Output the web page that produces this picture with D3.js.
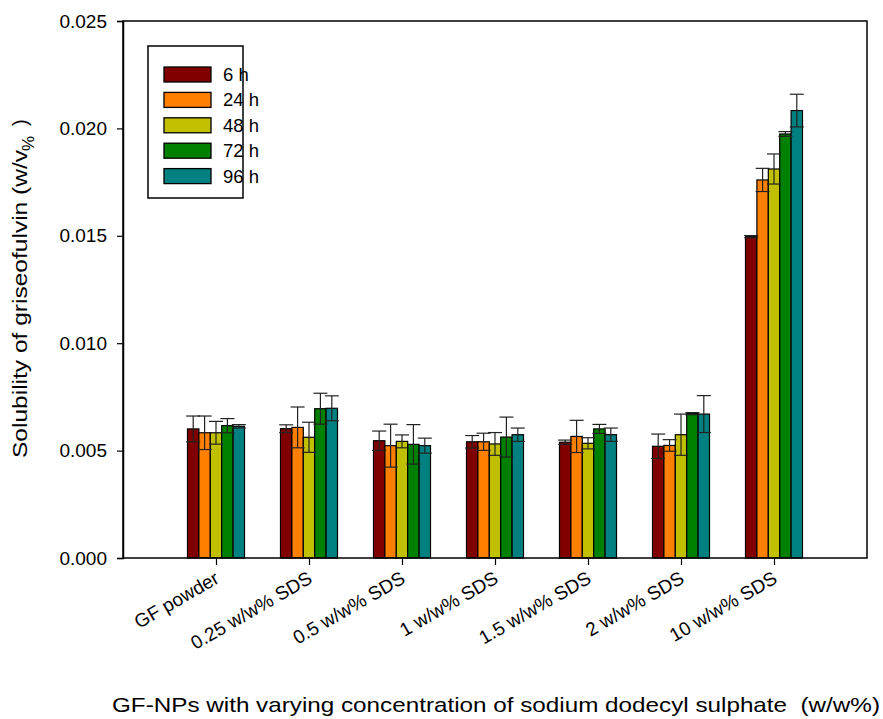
<!DOCTYPE html>
<html>
<head>
<meta charset="utf-8">
<script src="https://cdn.jsdelivr.net/npm/d3@7"></script>
<style>
  body { margin: 0; background: #fff; }
  svg text { font-family: "Liberation Sans", Arial, sans-serif; fill: #000; white-space: pre; }
</style>
</head>
<body>
<svg id="chart" width="883" height="719"></svg>
<script>
// Formulations on the x axis
const categories = ["GF powder", "0.25 w/w% SDS", "0.5 w/w% SDS", "1 w/w% SDS",
                    "1.5 w/w% SDS", "2 w/w% SDS", "10 w/w% SDS"];
// Sampling times (legend)
const series = ["6 h", "24 h", "48 h", "72 h", "96 h"];
const colors = ["#800000", "#ff8000", "#c0c000", "#008000", "#008080"];

// Mean solubility (w/v%) per time point, one entry per formulation
const v6h  = [0.00601, 0.00602, 0.00546, 0.00541, 0.00539, 0.00520, 0.01496];
const v24h = [0.00583, 0.00608, 0.00523, 0.00541, 0.00566, 0.00524, 0.01760];
const v48h = [0.00583, 0.00562, 0.00543, 0.00531, 0.00534, 0.00574, 0.01811];
const v72h = [0.00616, 0.00695, 0.00529, 0.00563, 0.00601, 0.00672, 0.01974];
const v96h = [0.00613, 0.00697, 0.00523, 0.00574, 0.00574, 0.00670, 0.02083];

// Standard deviations
const e6h  = [0.00060, 0.00018, 0.00045, 0.00029, 0.00010, 0.00057, 0.00005];
const e24h = [0.00078, 0.00095, 0.00100, 0.00040, 0.00075, 0.00027, 0.00054];
const e48h = [0.00053, 0.00070, 0.00030, 0.00053, 0.00026, 0.00096, 0.00070];
const e72h = [0.00033, 0.00072, 0.00092, 0.00093, 0.00021, 0.00005, 0.00011];
const e96h = [0.00008, 0.00058, 0.00035, 0.00031, 0.00031, 0.00086, 0.00076];

const yTicks = [0, 0.005, 0.010, 0.015, 0.020, 0.025];

const means = [v6h, v24h, v48h, v72h, v96h];
const errs  = [e6h, e24h, e48h, e72h, e96h];

const svg = d3.select("#chart");
const L = 123, R = 867, T = 21, B = 558;
const FONT = "Liberation Sans, Arial, sans-serif";

const x = d3.scaleLinear().domain([0, categories.length + 1]).range([L, R]);
const inner = d3.scaleBand().domain(series).range([-28.5, 28.5]).padding(0);
const y = d3.scaleLinear().domain([0, 0.025]).range([B, T]);

// records for every bar
const data = [];
categories.forEach((c, i) => {
  series.forEach((s, j) => {
    data.push({ cat: i, s: j, v: means[j][i], e: errs[j][i] });
  });
});

// bars
svg.append("g").selectAll("rect").data(data).join("rect")
  .attr("x", d => x(d.cat + 1) + inner(series[d.s]))
  .attr("y", d => y(d.v))
  .attr("width", inner.bandwidth())
  .attr("height", d => y(0) - y(d.v))
  .attr("fill", d => colors[d.s])
  .attr("stroke", "#000")
  .attr("stroke-width", 1.2);

// error bars
const eg = svg.append("g").attr("stroke", "#222").attr("stroke-width", 1.2);
const capW = 7;
data.forEach(d => {
  const cx = x(d.cat + 1) + inner(series[d.s]) + inner.bandwidth() / 2;
  const y1 = y(d.v + d.e), y2 = y(d.v - d.e);
  eg.append("line").attr("x1", cx).attr("x2", cx).attr("y1", y1).attr("y2", y2);
  eg.append("line").attr("x1", cx - capW).attr("x2", cx + capW).attr("y1", y1).attr("y2", y1);
  eg.append("line").attr("x1", cx - capW).attr("x2", cx + capW).attr("y1", y2).attr("y2", y2);
});

// frame
svg.append("rect").attr("x", L).attr("y", T).attr("width", R - L).attr("height", B - T)
  .attr("fill", "none").attr("stroke", "#000").attr("stroke-width", 1.5);

// y axis
const yAxis = svg.append("g").attr("transform", `translate(${L},0)`)
  .call(d3.axisLeft(y).tickValues(yTicks).tickFormat(d3.format(".3f")).tickSize(6).tickPadding(10));
yAxis.select(".domain").attr("stroke-width", 1.5);
yAxis.selectAll(".tick line").attr("stroke-width", 1.2);
yAxis.selectAll("text").attr("font-size", 19).style("font-family", FONT);

// x axis
const xAxis = svg.append("g").attr("transform", `translate(0,${B})`)
  .call(d3.axisBottom(x).tickValues(d3.range(1, categories.length + 1))
    .tickFormat(d => categories[d - 1]).tickSize(7).tickSizeOuter(0));
xAxis.select(".domain").remove();
xAxis.selectAll(".tick line").attr("stroke-width", 1.2);
xAxis.selectAll("text")
  .attr("font-size", 19)
  .style("font-family", FONT)
  .attr("text-anchor", "end")
  .attr("dy", 0)
  .attr("y", 0)
  .attr("transform", "translate(4,24) rotate(-30)");

// axis titles
svg.append("text")
  .attr("x", 112).attr("y", 712)
  .attr("font-size", 21)
  .attr("textLength", 768)
  .attr("lengthAdjust", "spacingAndGlyphs")
  .text("GF-NPs with varying concentration of sodium dodecyl sulphate  (w/w%)");

svg.append("text")
  .attr("transform", "translate(27,458) rotate(-90)")
  .attr("font-size", 20)
  .attr("textLength", 308)
  .attr("lengthAdjust", "spacingAndGlyphs")
  .text("Solubility of griseofulvin (w/v");
svg.append("text")
  .attr("transform", "translate(34,151) rotate(-90)")
  .attr("font-size", 17)
  .text("%");
svg.append("text")
  .attr("transform", "translate(27,126) rotate(-90)")
  .attr("font-size", 20)
  .text(")");

// legend
const lg = svg.append("g");
lg.append("rect").attr("x", 148).attr("y", 46).attr("width", 95).attr("height", 152)
  .attr("fill", "#fff").attr("stroke", "#000").attr("stroke-width", 1.5);
series.forEach((s, j) => {
  const yy = 67 + j * 25.4;
  lg.append("rect").attr("x", 164).attr("y", yy).attr("width", 47).attr("height", 15)
    .attr("fill", colors[j]).attr("stroke", "#000").attr("stroke-width", 1.3);
  lg.append("text").attr("x", 223).attr("y", yy + 14).attr("font-size", 18.5).text(s);
});
</script>
</body>
</html>
